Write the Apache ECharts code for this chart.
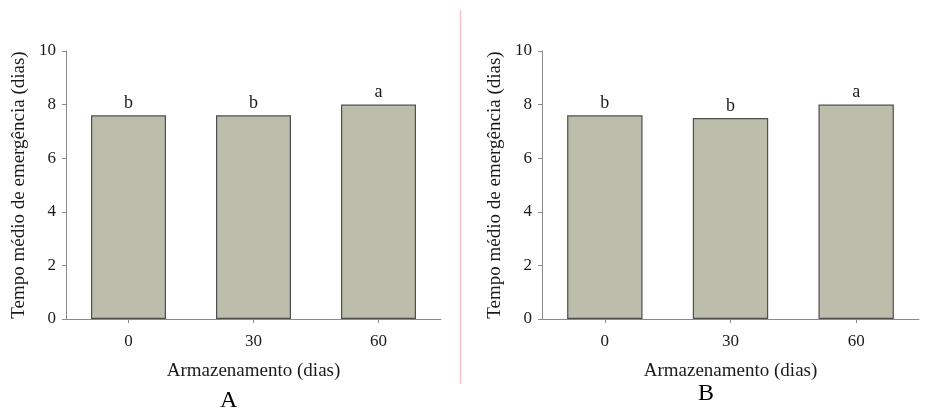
<!DOCTYPE html>
<html>
<head>
<meta charset="utf-8">
<style>
  html, body { margin: 0; padding: 0; background: #fff; }
  #chart { width: 925px; height: 412px; }
</style>
<script src="https://cdn.jsdelivr.net/npm/echarts@6/dist/echarts.min.js"></script>
</head>
<body>
<div id="chart"></div>
<script>
// Storage time (days) on the category axis
const categories = ['0', '30', '60'];
// Mean emergence time (days), panel A and panel B
const valuesA = [7.6, 7.6, 8.0];
const valuesB = [7.6, 7.5, 8.0];
// Mean-comparison letters above each bar
const lettersA = ['b', 'b', 'a'];
const lettersB = ['b', 'b', 'a'];
// Panel captions
const panelTitles = ['A', 'B'];
const yTicks = { min: 0, max: 10, interval: 2 };

const FONT = '"Liberation Serif", "DejaVu Serif", serif';
const TEXT = '#1a1a1a';
const AXIS = '#8a8a8a';

function xAxisFor(gridIndex) {
  return {
    type: 'category',
    gridIndex: gridIndex,
    data: categories,
    boundaryGap: true,
    name: 'Armazenamento (dias)',
    nameLocation: 'middle',
    nameGap: 43,
    nameTextStyle: { fontFamily: FONT, fontSize: 19, color: TEXT },
    axisLine: { show: true, lineStyle: { color: AXIS, width: 1 } },
    axisTick: { show: true, alignWithLabel: true, length: 4, lineStyle: { color: AXIS } },
    axisLabel: { fontFamily: FONT, fontSize: 17, color: TEXT, margin: 14 },
    splitLine: { show: false }
  };
}

function yAxisFor(gridIndex) {
  return {
    type: 'value',
    gridIndex: gridIndex,
    min: yTicks.min,
    max: yTicks.max,
    interval: yTicks.interval,
    name: 'Tempo médio de emergência (dias)',
    nameLocation: 'middle',
    nameRotate: 90,
    nameGap: 37,
    nameTextStyle: { fontFamily: FONT, fontSize: 19, color: TEXT },
    axisLine: { show: true, lineStyle: { color: AXIS, width: 1 } },
    axisTick: { show: true, length: 4, lineStyle: { color: AXIS } },
    axisLabel: { fontFamily: FONT, fontSize: 17, color: TEXT, margin: 10 },
    splitLine: { show: false }
  };
}

function barSeries(idx, values, letters) {
  return {
    type: 'bar',
    xAxisIndex: idx,
    yAxisIndex: idx,
    data: values,
    barWidth: '60%',
    itemStyle: { color: '#bcbdaa', borderColor: '#4f4f4f', borderWidth: 1.2 },
    label: {
      show: true,
      position: 'top',
      distance: 3,
      fontFamily: FONT,
      fontSize: 18,
      color: TEXT,
      formatter: function (p) { return letters[p.dataIndex]; }
    },
    emphasis: { disabled: true },
    animation: false
  };
}

const chart = echarts.init(document.getElementById('chart'), null, { renderer: 'canvas' });
chart.setOption({
  backgroundColor: '#ffffff',
  animation: false,
  grid: [
    { left: 66, top: 51, width: 375, height: 268 },
    { left: 542, top: 51, width: 377, height: 268 }
  ],
  xAxis: [xAxisFor(0), xAxisFor(1)],
  yAxis: [yAxisFor(0), yAxisFor(1)],
  series: [barSeries(0, valuesA, lettersA), barSeries(1, valuesB, lettersB)],
  graphic: [
    {
      type: 'line',
      shape: { x1: 460.5, y1: 10, x2: 460.5, y2: 384 },
      style: { stroke: '#f6c4c4', lineWidth: 1.5 }
    },
    {
      type: 'text',
      left: 220, top: 389,
      style: { text: panelTitles[0], font: '24px ' + FONT, fill: '#000' }
    },
    {
      type: 'text',
      left: 698, top: 382,
      style: { text: panelTitles[1], font: '24px ' + FONT, fill: '#000' }
    }
  ]
});
</script>
</body>
</html>
